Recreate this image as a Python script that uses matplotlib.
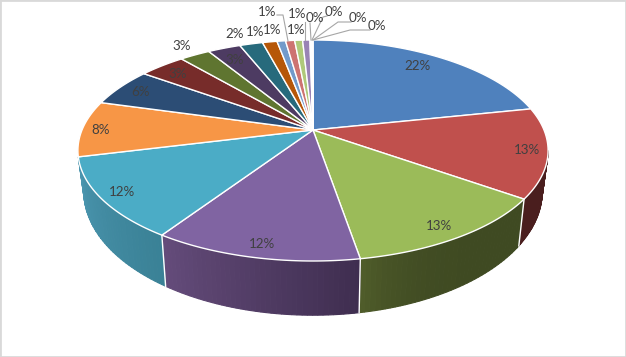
import numpy as np
import matplotlib
matplotlib.use("Agg")
import matplotlib.pyplot as plt

# share of each slice in percent
values = [21.7, 13.1, 12.5, 12.0, 11.8, 8.2, 5.6, 3.8, 2.5, 2.7, 1.9, 1.2, 0.7, 0.75, 0.65, 0.6, 0.1, 0.05, 0.05, 0.05]
labels = ["22%", "13%", "13%", "12%", "12%", "8%", "6%", "3%", "3%", "3%", "2%", "1%", "1%", "1%", "1%", "1%", "0%", "0%", "0%", "0%"]
colors = ["#4f81bd", "#c0504d", "#9bbb59", "#8064a2", "#4bacc6", "#f79646",
          "#2c4d75", "#772c2a", "#5f7530", "#4d3b62", "#276a7c", "#b65708",
          "#729aca", "#cd7371", "#afc97a", "#9983b5", "#6fbdd1", "#f9ab6b",
          "#4f81bd", "#c0504d"]
# wall colours at the start and end of each slice's visible side
wall_start = {1: "#4a1e1e", 2: "#3f4a22", 3: "#3f2e50", 4: "#3a8196"}
wall_end = {1: "#4a1e1e", 2: "#4f5c2a", 3: "#644b7a", 4: "#4a95ae"}
wall_power = {1: 1, 2: 5, 3: 1, 4: 1}

# pie geometry in pixels
cx, cy = 313, 130
X, Y, k = 231, 106.7, 0.1855

# label positions in pixels, and leader lines for the labels pulled off the pie
label_pos = [(417, 66), (527, 150), (439, 226), (262, 244), (122, 192), (101, 130), (140, 92), (178, 73),
             (182, 46), (235, 59), (235, 33), (255, 31), (272, 30), (267, 11), (296, 30), (297, 14),
             (315, 17), (334, 12), (358, 18), (377, 26)]
leaders = {13: [(277, 15), (283, 15), (288, 41)], 15: [(305, 22), (305, 40)],
           16: [(310, 23), (311, 40)], 17: [(327, 16), (323, 17), (312, 40)],
           18: [(351, 22), (338, 22), (313, 40)], 19: [(370, 30), (350, 30), (313, 40)]}


def top_point(a):
    # a is the clockwise angle from 12 o'clock, flat disc seen in perspective
    u, v = np.sin(a), np.cos(a)
    w = 1 + k * v
    return cx + X * u / w, cy - Y * v / w


def bottom_point(a):
    x, y = top_point(a)
    return cx + (x - cx) * 0.975, cy + (y - cy) * 1.12 + 38.5


def mix(c1, c2, t):
    a = np.array(matplotlib.colors.to_rgb(c1))
    b = np.array(matplotlib.colors.to_rgb(c2))
    return a + (b - a) * t


fig = plt.figure(figsize=(6.26, 3.57), dpi=100)
ax = fig.add_axes([0, 0, 1, 1])
ax.set_xlim(0, 626)
ax.set_ylim(357, 0)
ax.axis("off")

edges = np.cumsum([0] + values) / sum(values) * 2 * np.pi

# side walls, only the front part of the pie shows
front_start = np.pi / 2 + np.arcsin(k)
front_end = 2 * np.pi - front_start
for i in wall_start:
    a0 = max(edges[i], front_start)
    a1 = min(edges[i + 1], front_end)
    steps = np.linspace(a0, a1, 41)
    for j in range(40):
        t = (j / 39) ** wall_power[i]
        aa = np.linspace(steps[j], steps[j + 1], 3)
        top = np.array([top_point(a) for a in aa])
        bot = np.array([bottom_point(a) for a in aa[::-1]])
        pts = np.vstack([top, bot])
        c = mix(wall_start[i], wall_end[i], t)
        ax.fill(pts[:, 0], pts[:, 1], facecolor=c, edgecolor=c, lw=0.8, zorder=1)
    # white seam between walls
    if i > 1:
        xa, ya = top_point(edges[i])
        xb, yb = bottom_point(edges[i])
        ax.plot([xa, xb], [ya, yb], color="white", lw=1, zorder=2)

# top surface
for i, val in enumerate(values):
    aa = np.linspace(edges[i], edges[i + 1], 60)
    rim = np.array([top_point(a) for a in aa])
    xs = np.r_[cx, rim[:, 0]]
    ys = np.r_[cy, rim[:, 1]]
    ax.fill(xs, ys, facecolor=colors[i], edgecolor="white", lw=1, joinstyle="round", zorder=3)

for i, lab in enumerate(labels):
    x, y = label_pos[i]
    ax.text(x, y + 0.5, lab, fontsize=9.6, family="Lato", color="#404040", ha="center", va="center", zorder=5)

for i, pts in leaders.items():
    ax.plot([p[0] for p in pts], [p[1] for p in pts], color="#a6a6a6", lw=0.8, zorder=4)

# chart frame, cut by the picture edge
fig.add_artist(plt.Rectangle((0, 0), 1, 1, transform=fig.transFigure, fill=False, edgecolor="#d9d9d9", lw=2))

fig.savefig("out.png", dpi=100)
